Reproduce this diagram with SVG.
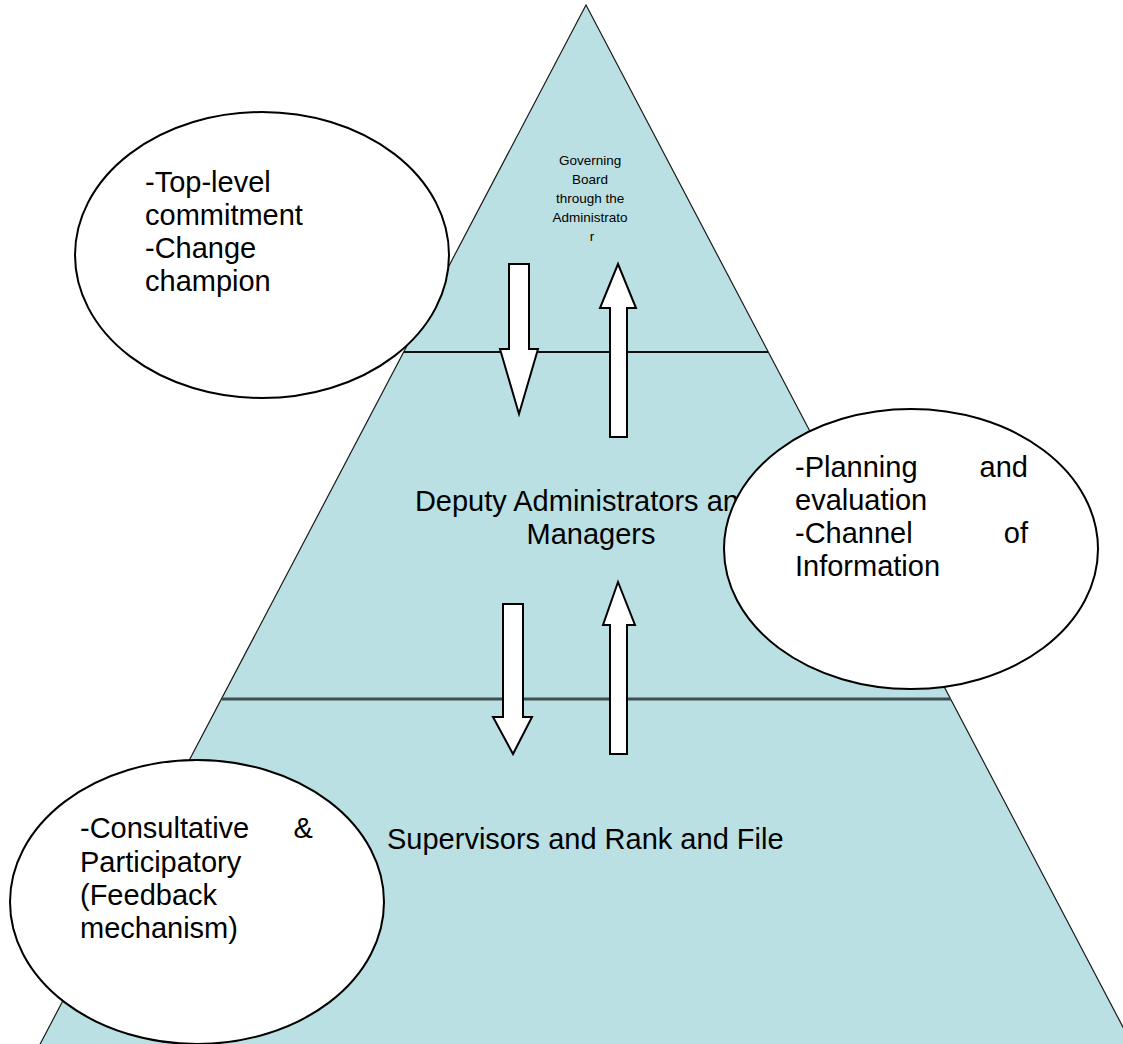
<svg xmlns="http://www.w3.org/2000/svg" width="1123" height="1044" viewBox="0 0 1123 1044">
  <style>
    .tri { fill: #bae0e3; stroke: #1a1a1a; stroke-width: 1.2; }
    .tier1 { stroke: #111; stroke-width: 2; }
    .tier2 { stroke: #3f4f51; stroke-width: 3; }
    .arrow { fill: #fff; stroke: #000; stroke-width: 2; stroke-linejoin: miter; }
    .bubble { fill: #fff; stroke: #000; stroke-width: 2; }
    text { font-family: "Liberation Sans", Arial, sans-serif; fill: #000; }
    .big { font-size: 29px; }
    .small { font-size: 13.5px; }
  </style>
  <rect width="1123" height="1044" fill="#fff"/>

  <!-- pyramid body -->
  <g id="pyramid">
    <polygon class="tri" points="586,5 1135,1050 37,1050"/>
    <line class="tier1" x1="404" y1="352" x2="768" y2="352"/>
    <line class="tier2" x1="222" y1="699" x2="951" y2="699"/>
  </g>

  <!-- tier labels -->
  <g id="tier-top">
    <text class="small" text-anchor="middle">
      <tspan x="592" y="165">Governing</tspan>
      <tspan x="592" y="184">Board</tspan>
      <tspan x="592" y="203">through the</tspan>
      <tspan x="592" y="222">Administrato</tspan>
      <tspan x="592" y="241">r</tspan>
    </text>
  </g>
  <g id="tier-middle">
    <text class="big" text-anchor="middle">
      <tspan x="589" y="511">Deputy Administrators and</tspan>
      <tspan x="591" y="544">Managers</tspan>
    </text>
  </g>
  <g id="tier-bottom">
    <text class="big" x="387" y="849">Supervisors and Rank and File</text>
  </g>

  <!-- flow arrows between tiers -->
  <g id="connectors">
    <polygon class="arrow" points="509,264 529,264 529,349 538,349 519,414 500,349 509,349"/>
    <polygon class="arrow" points="618,264 636,308 627,308 627,437 610,437 610,308 600,308"/>
    <polygon class="arrow" points="503,604 523,604 523,717 532,717 513,754 493,717 503,717"/>
    <polygon class="arrow" points="618,582 635,625 627,625 627,754 610,754 610,625 603,625"/>
  </g>

  <!-- callout bubbles -->
  <g id="bubble-top">
    <ellipse class="bubble" cx="262" cy="255" rx="187" ry="143"/>
    <text class="big">
      <tspan x="145" y="192">-Top-level</tspan>
      <tspan x="145" y="225">commitment</tspan>
      <tspan x="145" y="258">-Change</tspan>
      <tspan x="145" y="291">champion</tspan>
    </text>
  </g>
  <g id="bubble-middle">
    <ellipse class="bubble" cx="911" cy="549" rx="187" ry="140"/>
    <text class="big">
      <tspan x="795" y="477">-Planning</tspan>
      <tspan x="1028" y="477" text-anchor="end" dx="8">and</tspan>
      <tspan x="795" y="510">evaluation</tspan>
      <tspan x="795" y="543">-Channel</tspan>
      <tspan x="1028" y="543" text-anchor="end" dx="8">of</tspan>
      <tspan x="795" y="576">Information</tspan>
    </text>
  </g>
  <g id="bubble-bottom">
    <ellipse class="bubble" cx="197" cy="902" rx="187" ry="142"/>
    <text class="big">
      <tspan x="80" y="838">-Consultative</tspan>
      <tspan x="321" y="838" text-anchor="end">&amp;</tspan>
      <tspan x="80" y="872">Participatory</tspan>
      <tspan x="80" y="905">(Feedback</tspan>
      <tspan x="80" y="938">mechanism)</tspan>
    </text>
  </g>
</svg>
